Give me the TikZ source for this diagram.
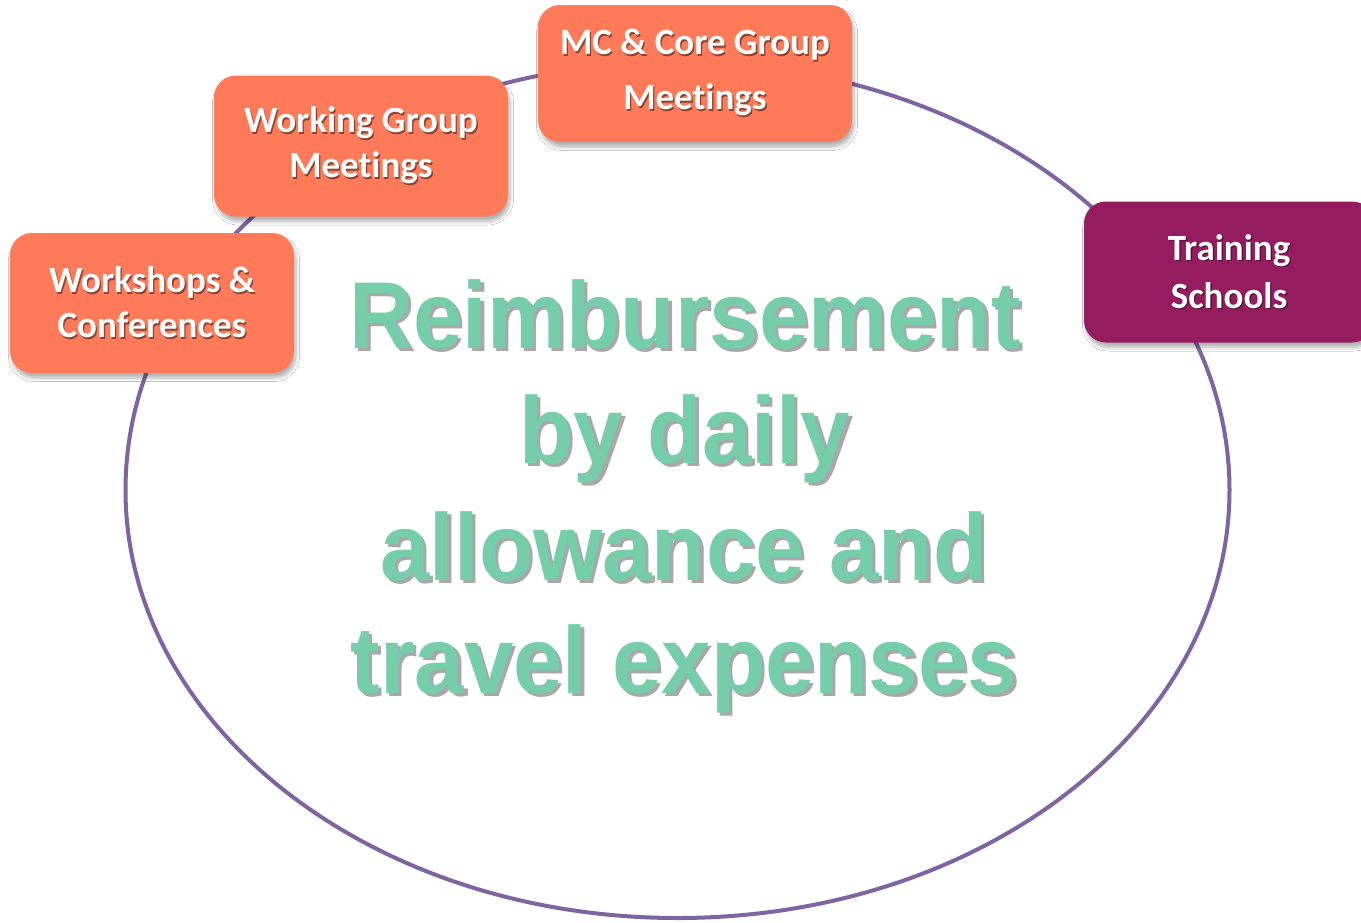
\documentclass[tikz,border=0pt]{standalone}
\usepackage{fontspec}
\usepackage{graphicx}
\setmainfont{Carlito}[Ligatures=NoCommon]
\newfontfamily\arialfont{Liberation Sans}
\usetikzlibrary{shadows,shadows.blur,shapes.geometric}
\definecolor{ringpurple}{HTML}{8064A2}
\definecolor{coral}{HTML}{FF7A59}
\definecolor{plum}{HTML}{951C5F}
\definecolor{mint}{HTML}{76CDA9}
\definecolor{mintshadow}{HTML}{A8A8A8}
\newcommand\boxsh[2]{\makebox[0pt][l]{\hspace{1.3pt}\raisebox{-1.3pt}{\color{#1}#2}}#2}
\newcommand\bigsh[1]{\scalebox{0.935}[1]{\makebox[0pt][l]{\hspace{3.5pt}\raisebox{-3.5pt}{\color{mintshadow}#1}}#1}}
\tikzset{
  eventbox/.style={rounded corners=22pt, inner sep=0pt, align=center, text=white,
    font=\bfseries\fontsize{37}{45}\selectfont,
    blur shadow={shadow xshift=2pt, shadow yshift=-5pt, shadow blur radius=3.5pt,
      shadow blur steps=8, shadow opacity=30}},
  bigline/.style={anchor=base, inner sep=0pt, text=mint,
    font=\arialfont\bfseries\fontsize{95}{115}\selectfont},
  ring/.style={draw=ringpurple, line width=4pt}
}
\begin{document}
\begin{tikzpicture}[x=1pt,y=-1pt]
\useasboundingbox (0,0) rectangle (1361,922);
\fill[white] (0,0) rectangle (1361,922);
\node[ring, ellipse, minimum width=1104pt, minimum height=856pt, inner sep=0pt] (ring) at (677.5,490) {};
\node[eventbox, fill=coral, minimum width=284pt, minimum height=140pt] (ws) at (152,303)
  {\boxsh{coral!55!black}{Workshops \&}\\\boxsh{coral!55!black}{Conferences}};
\node[eventbox, fill=coral, minimum width=294pt, minimum height=141pt] (wg) at (361,146)
  {\boxsh{coral!55!black}{Working Group}\\\boxsh{coral!55!black}{Meetings}};
\node[eventbox, fill=coral, minimum width=314pt, minimum height=137pt,
  font=\bfseries\fontsize{37}{55}\selectfont] (mc) at (695,73.5)
  {\boxsh{coral!55!black}{MC \& Core Group}\\\boxsh{coral!55!black}{Meetings}};
\node[eventbox, fill=plum, minimum width=290pt, minimum height=141pt,
  font=\bfseries\fontsize{37}{48}\selectfont] (ts) at (1229,272)
  {\boxsh{plum!55!black}{Training}\\\boxsh{plum!55!black}{Schools}};
\node[bigline] (l1) at (685,348) {\bigsh{Reimbursement}};
\node[bigline] (l2) at (685,463) {\bigsh{by daily}};
\node[bigline] (l3) at (684,580) {\bigsh{allowance and}};
\node[bigline] (l4) at (684,693) {\bigsh{travel expenses}};
\end{tikzpicture}
\end{document}
